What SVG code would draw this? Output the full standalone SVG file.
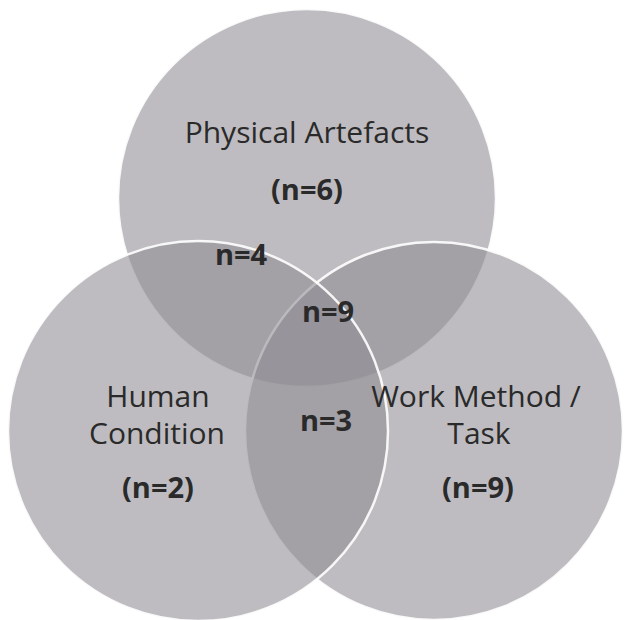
<svg xmlns="http://www.w3.org/2000/svg" width="625" height="620" viewBox="0 0 625 620">
  <style>
    .set { fill: #8f8b92; fill-opacity: 0.58; stroke: #ffffff; stroke-width: 2.5; stroke-opacity: 0.9; }
    .lbl { font-family: "Open Sans", "Liberation Sans", sans-serif; font-size: 30px; fill: #2a2a2a; text-anchor: middle; }
    .cnt { font-family: "Open Sans", "Liberation Sans", sans-serif; font-size: 29px; font-weight: bold; fill: #2a2a2a; text-anchor: middle; }
  </style>
  <rect x="0" y="0" width="625" height="620" fill="#ffffff"/>
  <g id="physical-artefacts">
    <circle class="set" cx="307" cy="198" r="189"/>
  </g>
  <g id="work-method-task">
    <circle class="set" cx="434" cy="431" r="189"/>
  </g>
  <g id="human-condition">
    <circle class="set" cx="198" cy="431" r="190"/>
  </g>
  <g id="labels-physical-artefacts">
    <text class="lbl" x="307" y="143">Physical Artefacts</text>
    <text class="cnt" x="307" y="200">(n=6)</text>
  </g>
  <g id="labels-human-condition">
    <text class="lbl" x="158" y="407">Human</text>
    <text class="lbl" x="157" y="444">Condition</text>
    <text class="cnt" x="158" y="498">(n=2)</text>
  </g>
  <g id="labels-work-method-task">
    <text class="lbl" x="476" y="407">Work Method /</text>
    <text class="lbl" x="479" y="444">Task</text>
    <text class="cnt" x="478" y="498">(n=9)</text>
  </g>
  <g id="overlap-physical-human">
    <text class="cnt" x="241" y="265">n=4</text>
  </g>
  <g id="overlap-all">
    <text class="cnt" x="328" y="322">n=9</text>
  </g>
  <g id="overlap-human-work">
    <text class="cnt" x="326" y="431">n=3</text>
  </g>
</svg>
